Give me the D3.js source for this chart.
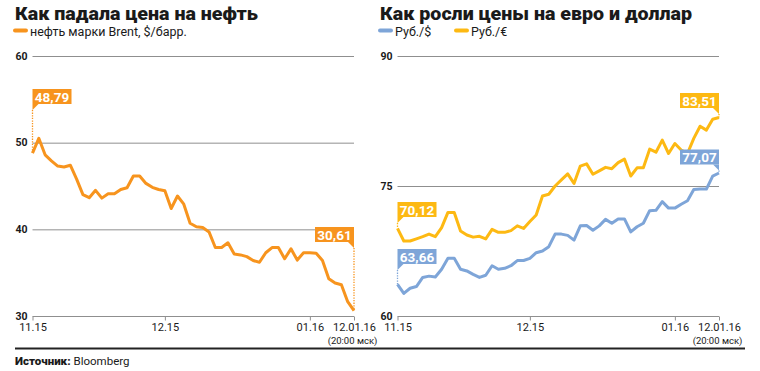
<!DOCTYPE html>
<html>
<head>
<meta charset="utf-8">
<script src="https://cdnjs.cloudflare.com/ajax/libs/d3/7.8.5/d3.min.js"></script>
<style>
    body { margin: 0; background: #fff; }
    svg { font-family: Roboto, "Noto Sans", sans-serif; }
</style>
</head>
<body>
<svg id="chart" width="760" height="371" viewBox="0 0 760 371"></svg>
<script>
// trading days from 02.11.15 to 12.01.16
const oilValues = [48.79, 50.5, 48.6, 47.9, 47.3, 47.2, 47.4, 45.8, 44.0, 43.65, 44.5, 43.6, 44.1, 44.1, 44.6, 44.8,
    46.15, 46.15, 45.3, 44.85, 44.6, 44.45, 42.4, 43.85, 42.9, 40.7, 40.3, 40.2, 39.7, 37.9, 37.9, 38.45, 37.15,
    37.05, 36.85, 36.4, 36.2, 37.3, 37.9, 37.9, 36.6, 37.75, 36.45, 37.3, 37.3, 37.25, 36.4, 34.3, 33.8, 33.6,
    31.65, 30.61];
const usdValues = [63.66, 62.6, 63.2, 63.4, 64.45, 64.6, 64.5, 65.4, 66.65, 66.65, 65.4, 65.2, 64.8, 64.45, 64.7,
    65.8, 65.4, 65.5, 65.8, 66.4, 66.4, 66.65, 67.3, 67.5, 68.0, 69.45, 69.45, 69.3, 68.75, 70.4, 70.45, 69.9,
    70.4, 71.15, 70.7, 71.2, 71.2, 69.7, 70.3, 70.7, 72.15, 72.2, 73.2, 72.45, 72.45, 72.9, 73.3, 74.6, 74.65,
    74.65, 76.15, 76.5];
const eurValues = [70.12, 68.65, 68.65, 68.9, 69.15, 69.45, 69.15, 70.2, 71.95, 71.95, 69.8, 69.35, 69.1, 69.2,
    68.9, 70.0, 69.65, 69.65, 69.85, 70.4, 70.1, 70.9, 71.65, 73.85, 74.05, 75.0, 75.7, 76.4, 75.3, 77.3, 77.55,
    76.35, 76.75, 77.15, 77.0, 77.7, 78.1, 76.15, 77.1, 77.1, 79.25, 78.9, 80.3, 78.75, 79.9, 79.15, 78.75, 80.5,
    81.9, 81.45, 82.7, 82.9];

const xTickLabels = ["11.15", "12.15", "01.16", "12.01.16"];
const xTickIndex = [0, 21, 44, 51];
const oilTicks = [30, 40, 50, 60];
const rubTicks = [60, 75, 90];

const oilCallouts = ["48,79", "30,61"];
const usdCallouts = ["63,66", "77,07"];
const eurCallouts = ["70,12", "83,51"];

const ORANGE = "#f7941e";
const YELLOW = "#fdb913";
const BLUE = "#7ea5d8";

const svg = d3.select("#chart");

function drawPanel(opt) {
    const g = svg.append("g");

    g.append("text")
        .attr("x", opt.left).attr("y", 20)
        .attr("font-size", 19).attr("font-weight", 900).attr("fill", "#1a1a1a")
        .attr("textLength", opt.titleWidth).attr("lengthAdjust", "spacingAndGlyphs")
        .text(opt.title);

    const leg = g.append("g");
    opt.legend.forEach((l, i) => {
        leg.append("line")
            .attr("x1", l.x + 2).attr("x2", l.x + 13).attr("y1", 30.5).attr("y2", 30.5)
            .attr("stroke", l.color).attr("stroke-width", 4).attr("stroke-linecap", "round");
        leg.append("text")
            .attr("x", l.x + 17).attr("y", 36)
            .attr("font-size", 12.5).attr("fill", "#1a1a1a")
            .text(l.text);
    });

    const x = d3.scaleLinear()
        .domain([0, opt.series[0].values.length - 1])
        .range([opt.x0, opt.x1]);
    const y = d3.scaleLinear()
        .domain(opt.yDomain)
        .range([316, 56]);

    g.append("g")
        .selectAll("line")
        .data(opt.yTicks)
        .enter()
        .append("line")
        .attr("x1", opt.x0).attr("x2", opt.x1)
        .attr("y1", d => y(d) + 0.5).attr("y2", d => y(d) + 0.5)
        .attr("stroke", "#8f8f8f").attr("stroke-width", 1);

    g.append("g")
        .selectAll("text")
        .data(opt.yTicks)
        .enter()
        .append("text")
        .attr("x", opt.x0 - 5).attr("y", d => y(d) + 3.5)
        .attr("text-anchor", "end")
        .attr("font-size", 10.5).attr("font-weight", 700).attr("fill", "#1a1a1a")
        .text(d => d);

    const xAxis = g.append("g")
        .attr("transform", `translate(0,${y(opt.yDomain[0]) + 0.5})`)
        .call(d3.axisBottom(x)
            .tickValues(xTickIndex)
            .tickSize(4)
            .tickFormat((d, i) => xTickLabels[i]));
    xAxis.select(".domain").remove();
    xAxis.selectAll(".tick line").attr("stroke", "#8f8f8f");
    xAxis.selectAll(".tick text")
        .attr("y", 7)
        .attr("font-family", "Roboto, sans-serif")
        .attr("font-size", 11).attr("fill", "#1a1a1a");
    xAxis.selectAll(".tick").filter((d, i) => i === xTickLabels.length - 1)
        .append("text")
        .attr("y", 20.5).attr("dy", "0.71em").attr("x", -2)
        .attr("text-anchor", "middle")
        .attr("font-family", "Roboto, sans-serif")
        .attr("font-size", 9.5).attr("fill", "#1a1a1a")
        .text("(20:00 мск)");

    const line = d3.line()
        .x((d, i) => x(i))
        .y(d => y(d));

    opt.series.forEach(s => {
        g.append("path")
            .datum(s.values)
            .attr("fill", "none")
            .attr("stroke", s.color)
            .attr("stroke-width", 3)
            .attr("stroke-linejoin", "round")
            .attr("d", line);
    });

    // callouts at first and last point
    opt.series.forEach(s => {
        s.callouts.forEach((c, k) => {
            const idx = k === 0 ? 0 : s.values.length - 1;
            const px = x(idx), py = y(s.values[idx]);
            const tip = s.tips[k];
            const w = 39, h = 15;
            const bx = k === 0 ? px : px - w;
            const by = tip - 6 - h;
            const cg = g.append("g");
            cg.append("line")
                .attr("x1", px).attr("x2", px).attr("y1", tip).attr("y2", py)
                .attr("stroke", s.color).attr("stroke-width", 1.3)
                .attr("stroke-dasharray", "1.3,1.3");
            cg.append("rect")
                .attr("x", bx).attr("y", by).attr("width", w).attr("height", h)
                .attr("fill", s.color);
            const tri = k === 0
                ? [[px, by + h], [px, tip], [px + 6, by + h]]
                : [[px, by + h], [px, tip], [px - 6, by + h]];
            cg.append("path")
                .attr("d", d3.line()(tri) + "Z")
                .attr("fill", s.color);
            cg.append("text")
                .attr("x", bx + w / 2).attr("y", by + h - 2.5)
                .attr("text-anchor", "middle")
                .attr("font-size", 13.5).attr("font-weight", 700).attr("fill", "#fff")
                .text(c);
        });
    });
}

drawPanel({
    left: 15, x0: 32.5, x1: 354, yDomain: [30, 60], yTicks: oilTicks,
    title: "Как падала цена на нефть", titleWidth: 243,
    legend: [{ x: 13, color: ORANGE, text: "нефть марки Brent, $/барр." }],
    series: [{ values: oilValues, color: ORANGE, callouts: oilCallouts, tips: [110, 248] }]
});

drawPanel({
    left: 380, x0: 397.5, x1: 719, yDomain: [60, 90], yTicks: rubTicks,
    title: "Как росли цены на евро и доллар", titleWidth: 312,
    legend: [{ x: 378, color: BLUE, text: "Руб./$" }, { x: 454, color: YELLOW, text: "Руб./€" }],
    series: [
        { values: usdValues, color: BLUE, callouts: usdCallouts, tips: [270, 170.5] },
        { values: eurValues, color: YELLOW, callouts: eurCallouts, tips: [223, 114] }
    ]
});

svg.append("line")
    .attr("x1", 15).attr("x2", 745).attr("y1", 348.5).attr("y2", 348.5)
    .attr("stroke", "#222").attr("stroke-width", 2.2);

svg.append("text")
    .attr("x", 15).attr("y", 365)
    .attr("font-size", 11.5).attr("fill", "#1a1a1a")
    .call(t => t.append("tspan").attr("font-weight", 900).text("Источник: "))
    .call(t => t.append("tspan").text("Bloomberg"));
</script>
</body>
</html>
